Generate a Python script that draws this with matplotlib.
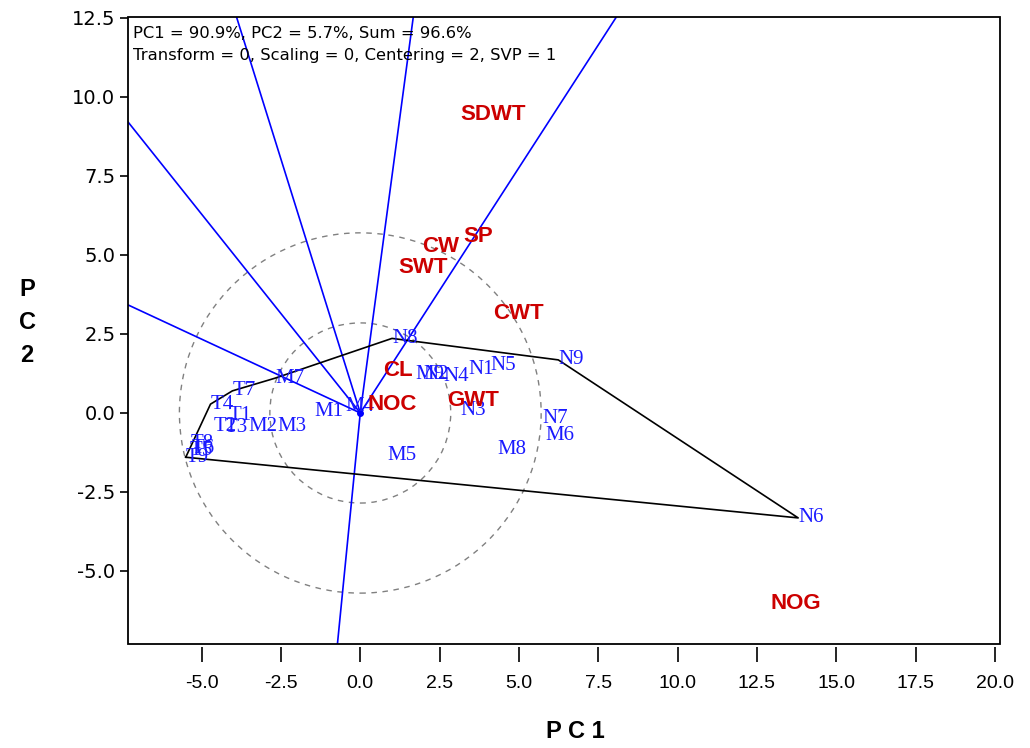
import numpy as np
import matplotlib.pyplot as plt
from matplotlib.patches import Circle, Rectangle

# genotype scores (PC1, PC2)
gen_names = ['T1', 'T2', 'T3', 'T4', 'T5', 'T6', 'T7', 'T8', 'T9',
             'M1', 'M2', 'M3', 'M4', 'M5', 'M6', 'M7', 'M8', 'M9',
             'N1', 'N2', 'N3', 'N4', 'N5', 'N6', 'N7', 'N8', 'N9']
gen_pc1 = [-4.16, -4.63, -4.29, -4.72, -5.39, -5.33, -4.03, -5.36, -5.50,
           -1.45, -3.53, -2.61, -0.47, 0.85, 5.83, -2.69, 4.32, 1.74,
           3.41, 2.00, 3.15, 2.62, 4.10, 13.80, 5.73, 1.00, 6.24]
gen_pc2 = [-0.09, -0.44, -0.47, 0.28, -1.20, -1.11, 0.70, -0.95, -1.40,
           0.06, -0.44, -0.44, 0.22, -1.33, -0.70, 1.10, -1.17, 1.23,
           1.39, 1.23, 0.09, 1.14, 1.49, -3.32, -0.16, 2.36, 1.68]

# trait scores
trait_names = ['SDWT', 'SP', 'CW', 'SWT', 'CWT', 'CL', 'GWT', 'NOC', 'NOG']
trait_pc1 = [3.16, 3.26, 1.96, 1.20, 4.18, 0.73, 2.75, 0.22, 12.94]
trait_pc2 = [9.43, 5.60, 5.28, 4.59, 3.16, 1.33, 0.38, 0.28, -6.04]

# polygon (which-won-where) vertices
hull = ['T9', 'T4', 'T7', 'M7', 'N8', 'N9', 'N6']

# directions of the rays from the origin (perpendiculars to polygon sides)
ray_dx = [-7.32, -7.32, -3.90, 1.67, 8.07, -0.72]
ray_dy = [3.42, 9.21, 12.53, 12.53, 12.53, -7.31]

circle_r = [2.85, 5.7]

header = ['PC1 = 90.9%, PC2 = 5.7%, Sum = 96.6%',
          'Transform = 0, Scaling = 0, Centering = 2, SVP = 1']

xticks = [-5.0, -2.5, 0.0, 2.5, 5.0, 7.5, 10.0, 12.5, 15.0, 17.5, 20.0]
yticks = [-5.0, -2.5, 0.0, 2.5, 5.0, 7.5, 10.0, 12.5]

plt.rcParams['font.family'] = ['Liberation Sans', 'DejaVu Sans']

fig = plt.figure(figsize=(10.30, 7.48), dpi=100)
ax = fig.add_axes([128/1030, 1 - 644/748, 872/1030, 627/748])
ax.set_xlim(-7.32, 20.16)
ax.set_ylim(-7.31, 12.53)

# dashed circles
for r in circle_r:
    ax.add_patch(Circle((0, 0), r, fill=False, ec='#808080', lw=1.0,
                        ls=(0, (4, 4)), zorder=1))

# rays
for dx, dy in zip(ray_dx, ray_dy):
    ax.plot([0, dx * 3], [0, dy * 3], color='#0000ff', lw=1.2, zorder=2)
ax.plot([0], [0], 'o', color='#0000ff', ms=4, zorder=3)

# polygon
pos = dict(zip(gen_names, zip(gen_pc1, gen_pc2)))
hx = [pos[g][0] for g in hull] + [pos[hull[0]][0]]
hy = [pos[g][1] for g in hull] + [pos[hull[0]][1]]
ax.plot(hx, hy, color='black', lw=1.2, zorder=2)

for name, x, y in zip(gen_names, gen_pc1, gen_pc2):
    ax.text(x, y, name, color='#1a1aff', fontsize=15, family='Liberation Serif',
            ha='left', va='center', zorder=4)

for name, x, y in zip(trait_names, trait_pc1, trait_pc2):
    ax.text(x, y, name, color='#cc0000', fontsize=16, fontweight='bold',
            ha='left', va='center', zorder=5)

ax.text(0.006, 0.973, header[0], transform=ax.transAxes, fontsize=11.8,
        family='DejaVu Sans', ha='left', va='center')
ax.text(0.006, 0.938, header[1], transform=ax.transAxes, fontsize=11.8,
        family='DejaVu Sans', ha='left', va='center')

# frame drawn separately, bottom ticks offset below it
for s in ax.spines.values():
    s.set_visible(False)
ax.spines['bottom'].set_position(('outward', 2))
ax.add_patch(Rectangle((0, 0), 1, 1, transform=ax.transAxes, fill=False,
                       ec='black', lw=1.3, zorder=6, clip_on=False))

ax.set_xticks(xticks)
ax.set_xticklabels(['%.1f' % v for v in xticks])
ax.set_yticks(yticks)
ax.set_yticklabels(['%.1f' % v for v in yticks], family='DejaVu Sans')
ax.tick_params(axis='x', length=11, width=1.2, pad=9, labelsize=14)
ax.tick_params(axis='y', length=6, width=1.2, pad=3, labelsize=14)

fig.text(575/1030, 1 - 731/748, 'P C 1', fontsize=17, fontweight='bold',
         ha='center', va='center')
for i, ch in enumerate('PC2'):
    fig.text(27/1030, 1 - (290 + 32.5 * i)/748, ch, fontsize=17,
             fontweight='bold', ha='center', va='center')

fig.savefig('out.png', dpi=100)
